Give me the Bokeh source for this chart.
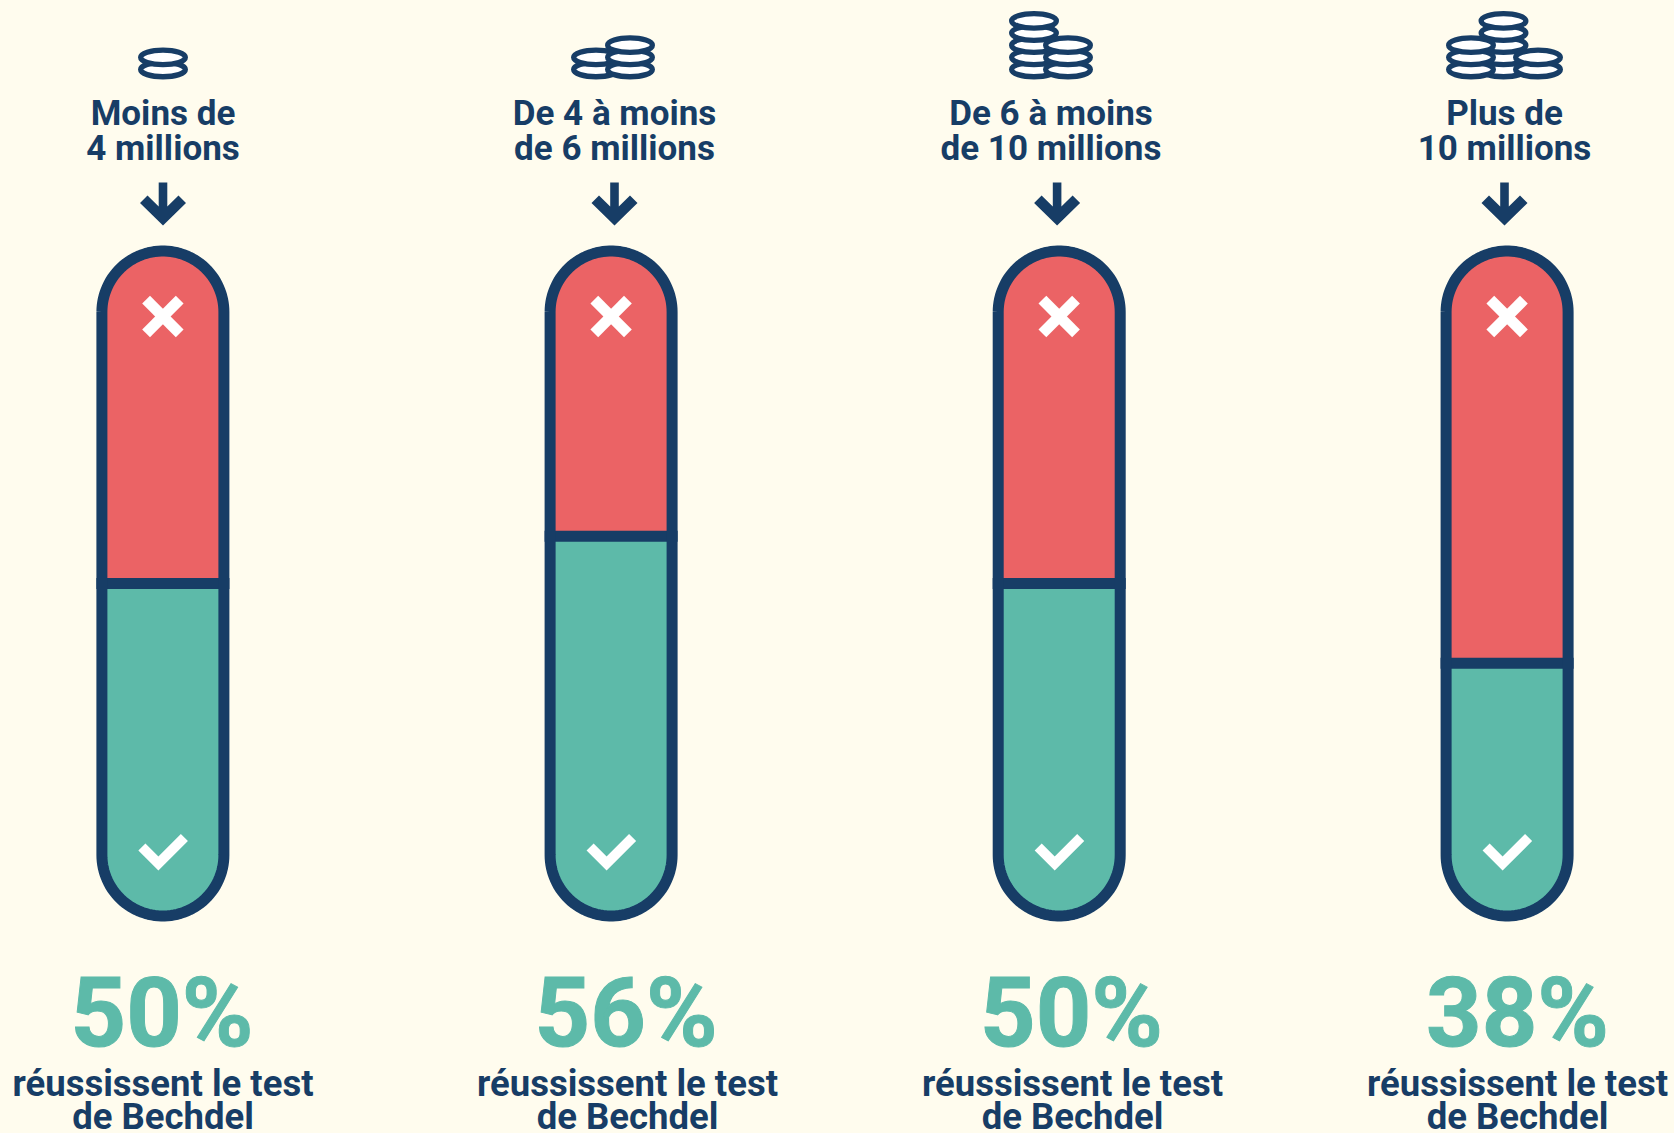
import numpy as np
from bokeh.plotting import figure
from bokeh.models import Range1d, ColumnDataSource
from bokeh.core.properties import value
from bokeh.embed import file_html
from bokeh.resources import INLINE

# --- data
budget_line1 = ["Moins de", "De 4 à moins", "De 6 à moins", "Plus de"]
budget_line2 = ["4 millions", "de 6 millions", "de 10 millions", "10 millions"]
pass_labels = ["50%", "56%", "50%", "38%"]
pass_share = [50.0, 57.0, 50.0, 38.2]
caption_line1 = "réussissent le test"
caption_line2 = "de Bechdel"
coin_counts = [[2], [2, 3], [5, 3], [5, 3, 2]]

# --- layout (px)
W, H = 1674, 1133
BG, NAVY, RED, GREEN = "#FFFCEE", "#173D66", "#EB6365", "#5DBAA9"
FONT = value("Roboto")
pill_x = [162.4, 610.6, 1058.7, 1506.6]
label_x = [162.5, 614, 1050.5, 1504]
arrow_x = [162.5, 614, 1056.6, 1504]
pct_x = [161.5, 625.6, 1071, 1517]
cap_x = [162.5, 627, 1072, 1517]
coin_stack_x = [[162.5], [595.5, 629.5], [1033.5, 1067.5], [1503, 1470.5, 1537.5]]
TOP, BOT = 245.0, 921.0
OUT_R, STROKE = 66.5, 11
PX_PER_SHARE = (BOT - TOP) / 100
BASELINE_SHIFT = 0.34

p = figure(width=W, height=H, output_backend="svg", toolbar_location=None,
           x_range=Range1d(0, W),
           y_range=Range1d((BOT - H) / PX_PER_SHARE, BOT / PX_PER_SHARE),
           min_border=0, outline_line_color=None,
           background_fill_color=BG, border_fill_color=BG)
p.axis.visible = False
p.grid.visible = False
p.extra_y_ranges = {"px": Range1d(H, 0)}


def sh(px):
    return (BOT - np.asarray(px, dtype=float)) / PX_PER_SHARE


def pill_outline(cx, r, y_top, y_bot):
    """closed outline in px"""
    t = np.linspace(np.pi, 2 * np.pi, 60)
    xs = np.r_[cx + r * np.cos(t), cx - r * np.cos(t)]
    ys = np.r_[y_top + OUT_R + r * np.sin(t), y_bot - OUT_R - r * np.sin(t)]
    return xs, ys


r_mid = OUT_R - STROKE / 2
for cx, share in zip(pill_x, pass_share):
    xs, ys = pill_outline(cx, r_mid, TOP, BOT)
    p.patch(xs, sh(ys), fill_color=RED, line_color=None)
    # green part : the pill's lower half, closed at the share level
    t = np.linspace(np.pi, 0, 60)
    gx = np.r_[cx - r_mid, cx + r_mid * np.cos(t), cx + r_mid]
    gy = np.r_[share, sh(BOT - OUT_R + r_mid * np.sin(t)), share]
    p.patch(gx, gy, fill_color=GREEN, line_color=None)
    p.segment(cx - OUT_R, share, cx + OUT_R, share, line_color=NAVY, line_width=11)
    p.line(np.r_[xs, xs[0]], sh(np.r_[ys, ys[0]]), line_color=NAVY, line_width=STROKE, line_join="round")
    # cross and tick marks
    p.multi_line([[cx - 16.8, cx + 16.8], [cx - 16.8, cx + 16.8]],
                 [[299.2, 332.8], [332.8, 299.2]], y_range_name="px",
                 line_color="#FFFFFF", line_width=11, line_cap="butt")
    p.line([cx - 21, cx - 4.5, cx + 21.5], [846.5, 863, 837], y_range_name="px",
           line_color="#FFFFFF", line_width=10, line_cap="butt", line_join="miter")

for ax in arrow_x:
    p.patch(ax + np.array([-4.3, 4.3, 4.3, 15.5, 23, 0, -23, -15.5, -4.3]),
            [182, 182, 206, 195, 202.5, 225, 202.5, 195, 206],
            y_range_name="px", fill_color=NAVY, line_color=None)

COIN_BOTTOM, COIN_STEP = 69.0, 12.15
for stacks, counts in zip(coin_stack_x, coin_counts):
    for sx, n in zip(stacks, counts):
        ys = [COIN_BOTTOM - i * COIN_STEP for i in range(n)]
        p.ellipse([sx] * n, ys, width=44.7, height=14.5, y_range_name="px",
                  fill_color="#FFFFFF", line_color=NAVY, line_width=5.3)


def put(xs, baseline, texts, size, color, **kw):
    y = baseline - BASELINE_SHIFT * size
    src = ColumnDataSource(dict(x=list(xs), y=[y] * len(xs), t=list(texts)))
    p.text("x", "y", text="t", source=src, y_range_name="px", text_font=FONT, text_font_style="bold",
           text_font_size=f"{size}px", text_color=color, text_align="center",
           text_baseline="alphabetic", **kw)


put(label_x, 125, budget_line1, 35, NAVY)
put(label_x, 159.5, budget_line2, 35, NAVY)
put(pct_x, 1045.5, pass_labels, 97, GREEN, text_outline_color=GREEN)
put(cap_x, 1095, [caption_line1] * 4, 36.5, NAVY)
put(cap_x, 1128, [caption_line2] * 4, 36.5, NAVY)

html = file_html(p, INLINE)
html = html.replace("</head>", "<style>html,body{margin:0;padding:0;background:%s;overflow:hidden}</style></head>" % BG, 1)
open("out.html", "w").write(html)
